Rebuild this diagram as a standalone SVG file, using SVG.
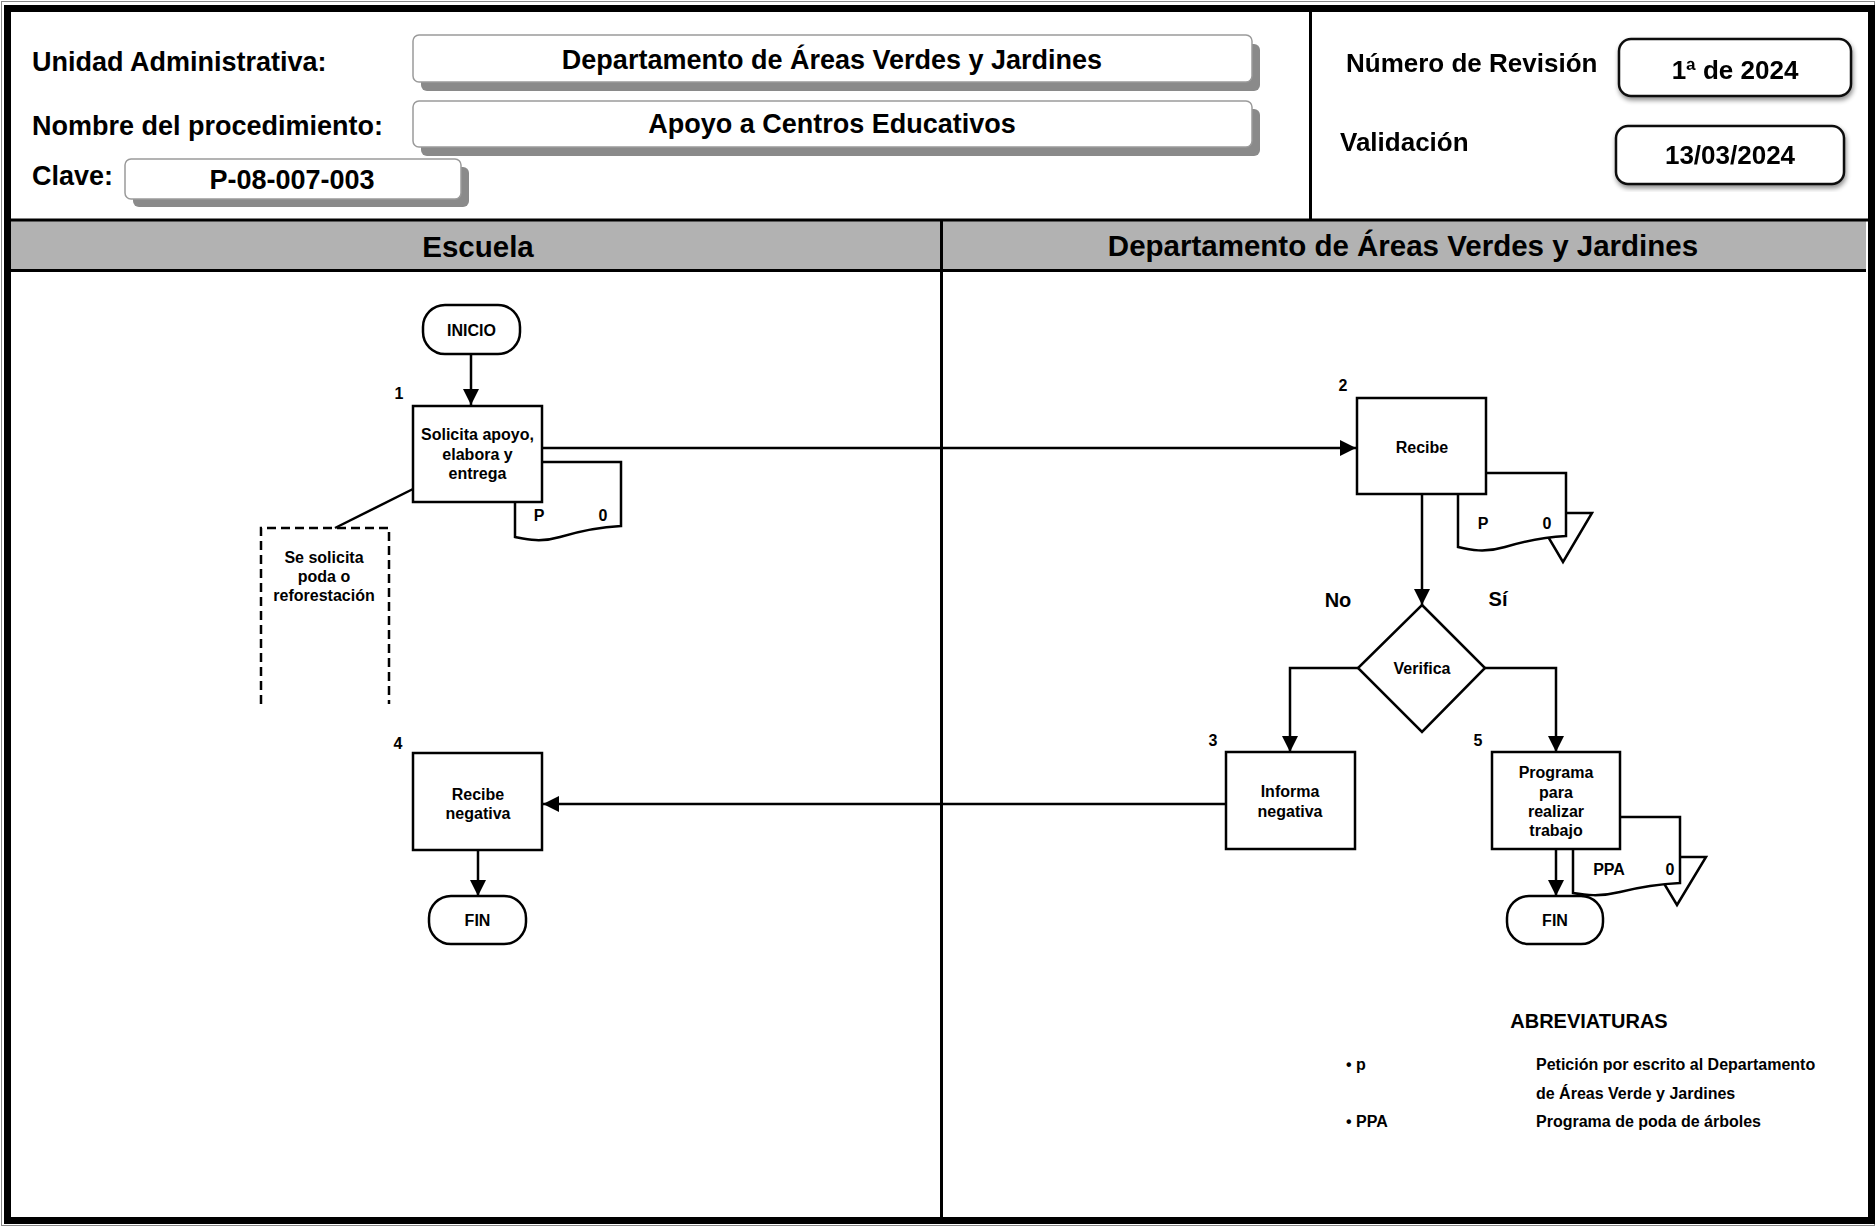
<svg xmlns="http://www.w3.org/2000/svg" width="1876" height="1227" viewBox="0 0 1876 1227">
  <style>
    text { font-family: "Liberation Sans", Arial, sans-serif; font-weight: bold; fill: #000; }
    .hdr { font-size: 27px; }
    .hdr2 { font-size: 26px; }
    .lane { font-size: 29.5px; }
    .node { font-size: 16px; text-anchor: middle; }
    .num { font-size: 16px; text-anchor: middle; }
    .lbl { font-size: 20px; text-anchor: middle; }
    .abr { font-size: 16px; }
    .box { fill: #fff; stroke: #000; stroke-width: 2.5; }
    .line { fill: none; stroke: #000; stroke-width: 2.5; }
    .shadow { fill: #8a8a8a; }
    .field { fill: #fff; stroke: #9a9a9a; stroke-width: 1.5; }
    .field2 { fill: #fff; stroke: #111; stroke-width: 2.5; }
  </style>
  <defs>
    <marker id="arrow" markerUnits="userSpaceOnUse" markerWidth="18" markerHeight="16" refX="16" refY="8" orient="auto">
      <path d="M0,0 L16,8 L0,16 Z" fill="#000"/>
    </marker>
    <filter id="soft" x="-5%" y="-5%" width="110%" height="110%">
      <feGaussianBlur stdDeviation="0.6"/>
    </filter>
    <filter id="drop" x="-10%" y="-20%" width="120%" height="150%">
      <feGaussianBlur in="SourceAlpha" stdDeviation="2.5"/>
      <feOffset dx="1" dy="3"/>
      <feComponentTransfer><feFuncA type="linear" slope="0.45"/></feComponentTransfer>
      <feMerge><feMergeNode/><feMergeNode in="SourceGraphic"/></feMerge>
    </filter>
  </defs>

  <!-- page background and frame -->
  <rect x="0" y="0" width="1876" height="1227" fill="#fff"/>
  <rect x="1.5" y="1.5" width="1873" height="1224" fill="none" stroke="#888" stroke-width="1"/>
  <rect x="7.5" y="8.5" width="1864" height="1212" fill="none" stroke="#000" stroke-width="7"/>

  <!-- header: left block -->
  <g id="header-left">
    <text class="hdr" x="32" y="71">Unidad Administrativa:</text>
    <text class="hdr" x="32" y="135">Nombre del procedimiento:</text>
    <text class="hdr" x="32" y="185">Clave:</text>

    <rect class="shadow" x="421" y="44" width="839" height="47" rx="6"/>
    <rect class="field" x="413" y="35" width="839" height="47" rx="6"/>
    <text class="hdr" x="832" y="69" text-anchor="middle">Departamento de Áreas Verdes y Jardines</text>

    <rect class="shadow" x="421" y="109" width="839" height="47" rx="6"/>
    <rect class="field" x="413" y="101" width="839" height="46" rx="6"/>
    <text class="hdr" x="832" y="133" text-anchor="middle">Apoyo a Centros Educativos</text>

    <rect class="shadow" x="133" y="167" width="336" height="40" rx="6"/>
    <rect class="field" x="125" y="159" width="336" height="40" rx="6"/>
    <text class="hdr" x="292" y="189" text-anchor="middle">P-08-007-003</text>
  </g>

  <line x1="1310.5" y1="12" x2="1310.5" y2="219" stroke="#000" stroke-width="3"/>

  <!-- header: right block -->
  <g id="header-right" filter="url(#soft)">
    <text class="hdr2" x="1346" y="72">Número de Revisión</text>
    <text class="hdr2" x="1340" y="151">Validación</text>
    <g filter="url(#drop)">
      <rect class="field2" x="1619" y="39" width="232" height="57" rx="12"/>
      <rect class="field2" x="1616" y="126" width="228" height="58" rx="12"/>
    </g>
    <text class="hdr2" x="1735" y="79" text-anchor="middle">1ª de 2024</text>
    <text class="hdr2" x="1730" y="164" text-anchor="middle">13/03/2024</text>
  </g>

  <!-- swimlane headers -->
  <g id="lanes">
    <rect x="11" y="221" width="1855" height="49" fill="#b2b2b2"/>
    <line x1="11" y1="220" x2="1868" y2="220" stroke="#000" stroke-width="3"/>
    <line x1="11" y1="270.5" x2="1866" y2="270.5" stroke="#000" stroke-width="3"/>
    <line x1="941.5" y1="219" x2="941.5" y2="1217" stroke="#000" stroke-width="3"/>
    <text class="lane" x="478" y="257" text-anchor="middle">Escuela</text>
    <text class="lane" x="1403" y="256" text-anchor="middle">Departamento de Áreas Verdes y Jardines</text>
  </g>

  <!-- connectors -->
  <g id="connectors">
    <line class="line" x1="471" y1="355" x2="471" y2="405" marker-end="url(#arrow)"/>
    <line class="line" x1="542" y1="448" x2="1356" y2="448" marker-end="url(#arrow)"/>
    <line class="line" x1="1422" y1="494" x2="1422" y2="605" marker-end="url(#arrow)"/>
    <polyline class="line" points="1358,668 1290,668 1290,752" marker-end="url(#arrow)"/>
    <polyline class="line" points="1485,668 1556,668 1556,752" marker-end="url(#arrow)"/>
    <line class="line" x1="1226" y1="804" x2="543" y2="804" marker-end="url(#arrow)"/>
    <line class="line" x1="478" y1="850" x2="478" y2="896" marker-end="url(#arrow)"/>
    <line class="line" x1="1556" y1="849" x2="1556" y2="896" marker-end="url(#arrow)"/>
    <line class="line" x1="413" y1="489" x2="335" y2="528"/>
  </g>

  <!-- Escuela lane -->
  <g id="inicio">
    <rect class="box" x="423" y="305" width="97" height="49" rx="22"/>
    <text class="node" x="471.5" y="336">INICIO</text>
  </g>

  <g id="doc-p-1">
    <path class="box" d="M515,462 L621,462 L621,526 C600,527 580,531 560,537 C540,543 525,539 515,537 Z"/>
    <text class="node" x="539" y="521">P</text>
    <text class="node" x="603" y="521">0</text>
  </g>

  <g id="paso-1">
    <text class="num" x="399" y="399">1</text>
    <rect class="box" x="413" y="406" width="129" height="96"/>
    <text class="node" x="477.5" y="440">Solicita apoyo,</text>
    <text class="node" x="477.5" y="460">elabora y</text>
    <text class="node" x="477.5" y="479">entrega</text>
  </g>

  <g id="nota">
    <path d="M261,704 L261,528 L389,528 L389,704" fill="none" stroke="#000" stroke-width="2.5" stroke-dasharray="9,5"/>
    <text class="node" x="324" y="563">Se solicita</text>
    <text class="node" x="324" y="582">poda o</text>
    <text class="node" x="324" y="601">reforestación</text>
  </g>

  <g id="paso-4">
    <text class="num" x="398" y="749">4</text>
    <rect class="box" x="413" y="753" width="129" height="97"/>
    <text class="node" x="478" y="800">Recibe</text>
    <text class="node" x="478" y="819">negativa</text>
  </g>

  <g id="fin-escuela">
    <rect class="box" x="429" y="896" width="97" height="48" rx="22"/>
    <text class="node" x="477.5" y="926">FIN</text>
  </g>

  <!-- Departamento lane -->
  <g id="doc-p-2">
    <path class="box" d="M1534,513 L1592,513 L1563,562 Z"/>
    <path class="box" d="M1458,473 L1566,473 L1566,536 C1545,537 1525,541 1505,547 C1485,553 1470,550 1458,547 Z"/>
    <text class="node" x="1483" y="529">P</text>
    <text class="node" x="1547" y="529">0</text>
  </g>

  <g id="paso-2">
    <text class="num" x="1343" y="391">2</text>
    <rect class="box" x="1357" y="398" width="129" height="96"/>
    <text class="node" x="1422" y="453">Recibe</text>
  </g>

  <g id="decision">
    <text class="lbl" x="1338" y="607">No</text>
    <text class="lbl" x="1498" y="606">Sí</text>
    <path class="box" d="M1422,605 L1485,668 L1422,732 L1358,668 Z"/>
    <text class="node" x="1422" y="674">Verifica</text>
  </g>

  <g id="paso-3">
    <text class="num" x="1213" y="746">3</text>
    <rect class="box" x="1226" y="752" width="129" height="97"/>
    <text class="node" x="1290" y="797">Informa</text>
    <text class="node" x="1290" y="817">negativa</text>
  </g>

  <g id="doc-ppa">
    <path class="box" d="M1648,857 L1706,857 L1677,905 Z"/>
    <path class="box" d="M1573,817 L1680,817 L1680,883 C1660,884 1640,887 1620,892 C1600,897 1585,895 1573,893 Z"/>
    <text class="node" x="1609" y="875">PPA</text>
    <text class="node" x="1670" y="875">0</text>
  </g>

  <g id="paso-5">
    <text class="num" x="1478" y="746">5</text>
    <rect class="box" x="1492" y="752" width="128" height="97"/>
    <text class="node" x="1556" y="778">Programa</text>
    <text class="node" x="1556" y="798">para</text>
    <text class="node" x="1556" y="817">realizar</text>
    <text class="node" x="1556" y="836">trabajo</text>
  </g>

  <g id="fin-departamento">
    <rect class="box" x="1507" y="896" width="96" height="48" rx="22"/>
    <text class="node" x="1555" y="926">FIN</text>
  </g>

  <!-- abbreviations -->
  <g id="abreviaturas">
    <text class="lbl" x="1589" y="1028">ABREVIATURAS</text>
    <text class="abr" x="1346" y="1070">• p</text>
    <text class="abr" x="1536" y="1070">Petición por escrito al Departamento</text>
    <text class="abr" x="1536" y="1099">de Áreas Verde y Jardines</text>
    <text class="abr" x="1346" y="1127">• PPA</text>
    <text class="abr" x="1536" y="1127">Programa de poda de árboles</text>
  </g>
</svg>
